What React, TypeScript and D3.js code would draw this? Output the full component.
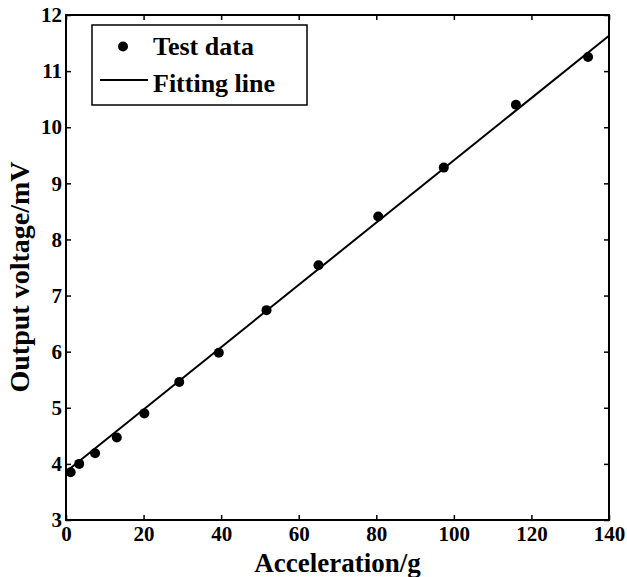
import React, { useRef, useEffect } from 'react';
import * as d3 from 'd3';

// measured data (acceleration in g, output in mV)
const accel = [1.2, 3.4, 7.5, 13.1, 20.2, 29.2, 39.4, 51.7, 65.1, 80.5, 97.4, 116.0, 134.6];
const voltage = [3.85, 4.0, 4.19, 4.47, 4.9, 5.46, 5.98, 6.74, 7.54, 8.41, 9.28, 10.4, 11.25];
// least squares line end points
const fitX = [0, 140];
const fitY = [3.86, 11.63];
const xTicks = [0, 20, 40, 60, 80, 100, 120, 140];
const yTicks = [3, 4, 5, 6, 7, 8, 9, 10, 11, 12];

const W = 627, H = 577;
const margin = { top: 15, right: 18, bottom: 57, left: 66 };
const FONT = '"Liberation Serif", "Times New Roman", serif';

const App = () => {
  const svgRef = useRef<SVGSVGElement>(null);

  useEffect(() => {
    const svg = d3.select(svgRef.current);
    svg.selectAll('*').remove();
    const iw = W - margin.left - margin.right;
    const ih = H - margin.top - margin.bottom;

    const x = d3.scaleLinear().domain([0, 140]).range([0, iw]);
    const y = d3.scaleLinear().domain([3, 12]).range([ih, 0]);

    const g = svg.append('g').attr('transform', `translate(${margin.left},${margin.top})`);

    // frame + inward ticks on every side
    const styleAxis = (sel, labels) => {
      sel.attr('font-family', FONT).attr('font-size', 21).attr('font-weight', 'bold');
      sel.select('.domain').remove();
      sel.selectAll('.tick line').attr('stroke', '#000').attr('stroke-width', 1.5);
      sel.selectAll('.tick text')
        .style('font-family', FONT).style('font-weight', 700).style('font-size', '21px').attr('fill', '#000');
      if (!labels) sel.selectAll('.tick text').remove();
    };

    g.append('g').attr('transform', `translate(0,${ih})`)
      .call(d3.axisBottom(x).tickValues(xTicks).tickSizeInner(-5).tickPadding(6).tickFormat(d3.format('d')))
      .call(s => styleAxis(s, true));
    g.append('g')
      .call(d3.axisTop(x).tickValues(xTicks).tickSizeInner(-5).tickFormat(() => ''))
      .call(s => styleAxis(s, false));
    g.append('g')
      .call(d3.axisLeft(y).tickValues(yTicks).tickSizeInner(-5).tickPadding(4).tickFormat(d3.format('d')))
      .call(s => styleAxis(s, true));
    g.append('g').attr('transform', `translate(${iw},0)`)
      .call(d3.axisRight(y).tickValues(yTicks).tickSizeInner(-5).tickFormat(() => ''))
      .call(s => styleAxis(s, false));

    g.append('rect').attr('width', iw).attr('height', ih)
      .attr('fill', 'none').attr('stroke', '#000').attr('stroke-width', 2);

    // fitting line
    const line = d3.line<number>().x((d) => x(d)).y((d, i) => y(fitY[i]));
    g.append('path').datum(fitX).attr('d', line)
      .attr('fill', 'none').attr('stroke', '#000').attr('stroke-width', 2);

    // test data
    g.selectAll('.pt').data(accel).join('circle')
      .attr('class', 'pt')
      .attr('cx', d => x(d)).attr('cy', (d, i) => y(voltage[i]))
      .attr('r', 5).attr('fill', '#000');

    // axis titles
    svg.append('text')
      .attr('x', margin.left + iw / 2).attr('y', 572)
      .attr('text-anchor', 'middle')
      .style('font-family', FONT).style('font-weight', 700).style('font-size', '27px')
      .text('Acceleration/g');
    svg.append('text')
      .attr('transform', `translate(29,277) rotate(-90)`)
      .attr('text-anchor', 'middle')
      .style('font-family', FONT).style('font-weight', 700).style('font-size', '28px')
      .text('Output voltage/mV');

    // legend
    const lg = svg.append('g');
    lg.append('rect').attr('x', 92).attr('y', 25).attr('width', 215).attr('height', 80)
      .attr('fill', '#fff').attr('stroke', '#000').attr('stroke-width', 1.5);
    lg.append('circle').attr('cx', 123).attr('cy', 46.5).attr('r', 5).attr('fill', '#000');
    lg.append('line').attr('x1', 100).attr('x2', 148).attr('y1', 80).attr('y2', 80)
      .attr('stroke', '#000').attr('stroke-width', 2);
    const legendText = ['Test data', 'Fitting line'];
    lg.selectAll('.lt').data(legendText).join('text')
      .attr('class', 'lt')
      .attr('x', 153).attr('y', (d, i) => 55 + i * 37)
      .style('font-family', FONT).style('font-weight', 700).style('font-size', '26px')
      .text(d => d);
  }, []);

  return (
    <svg ref={svgRef} width={W} height={H}
      style={{ position: 'absolute', left: 0, top: 0, background: '#fff' }} />
  );
};

export default App;
